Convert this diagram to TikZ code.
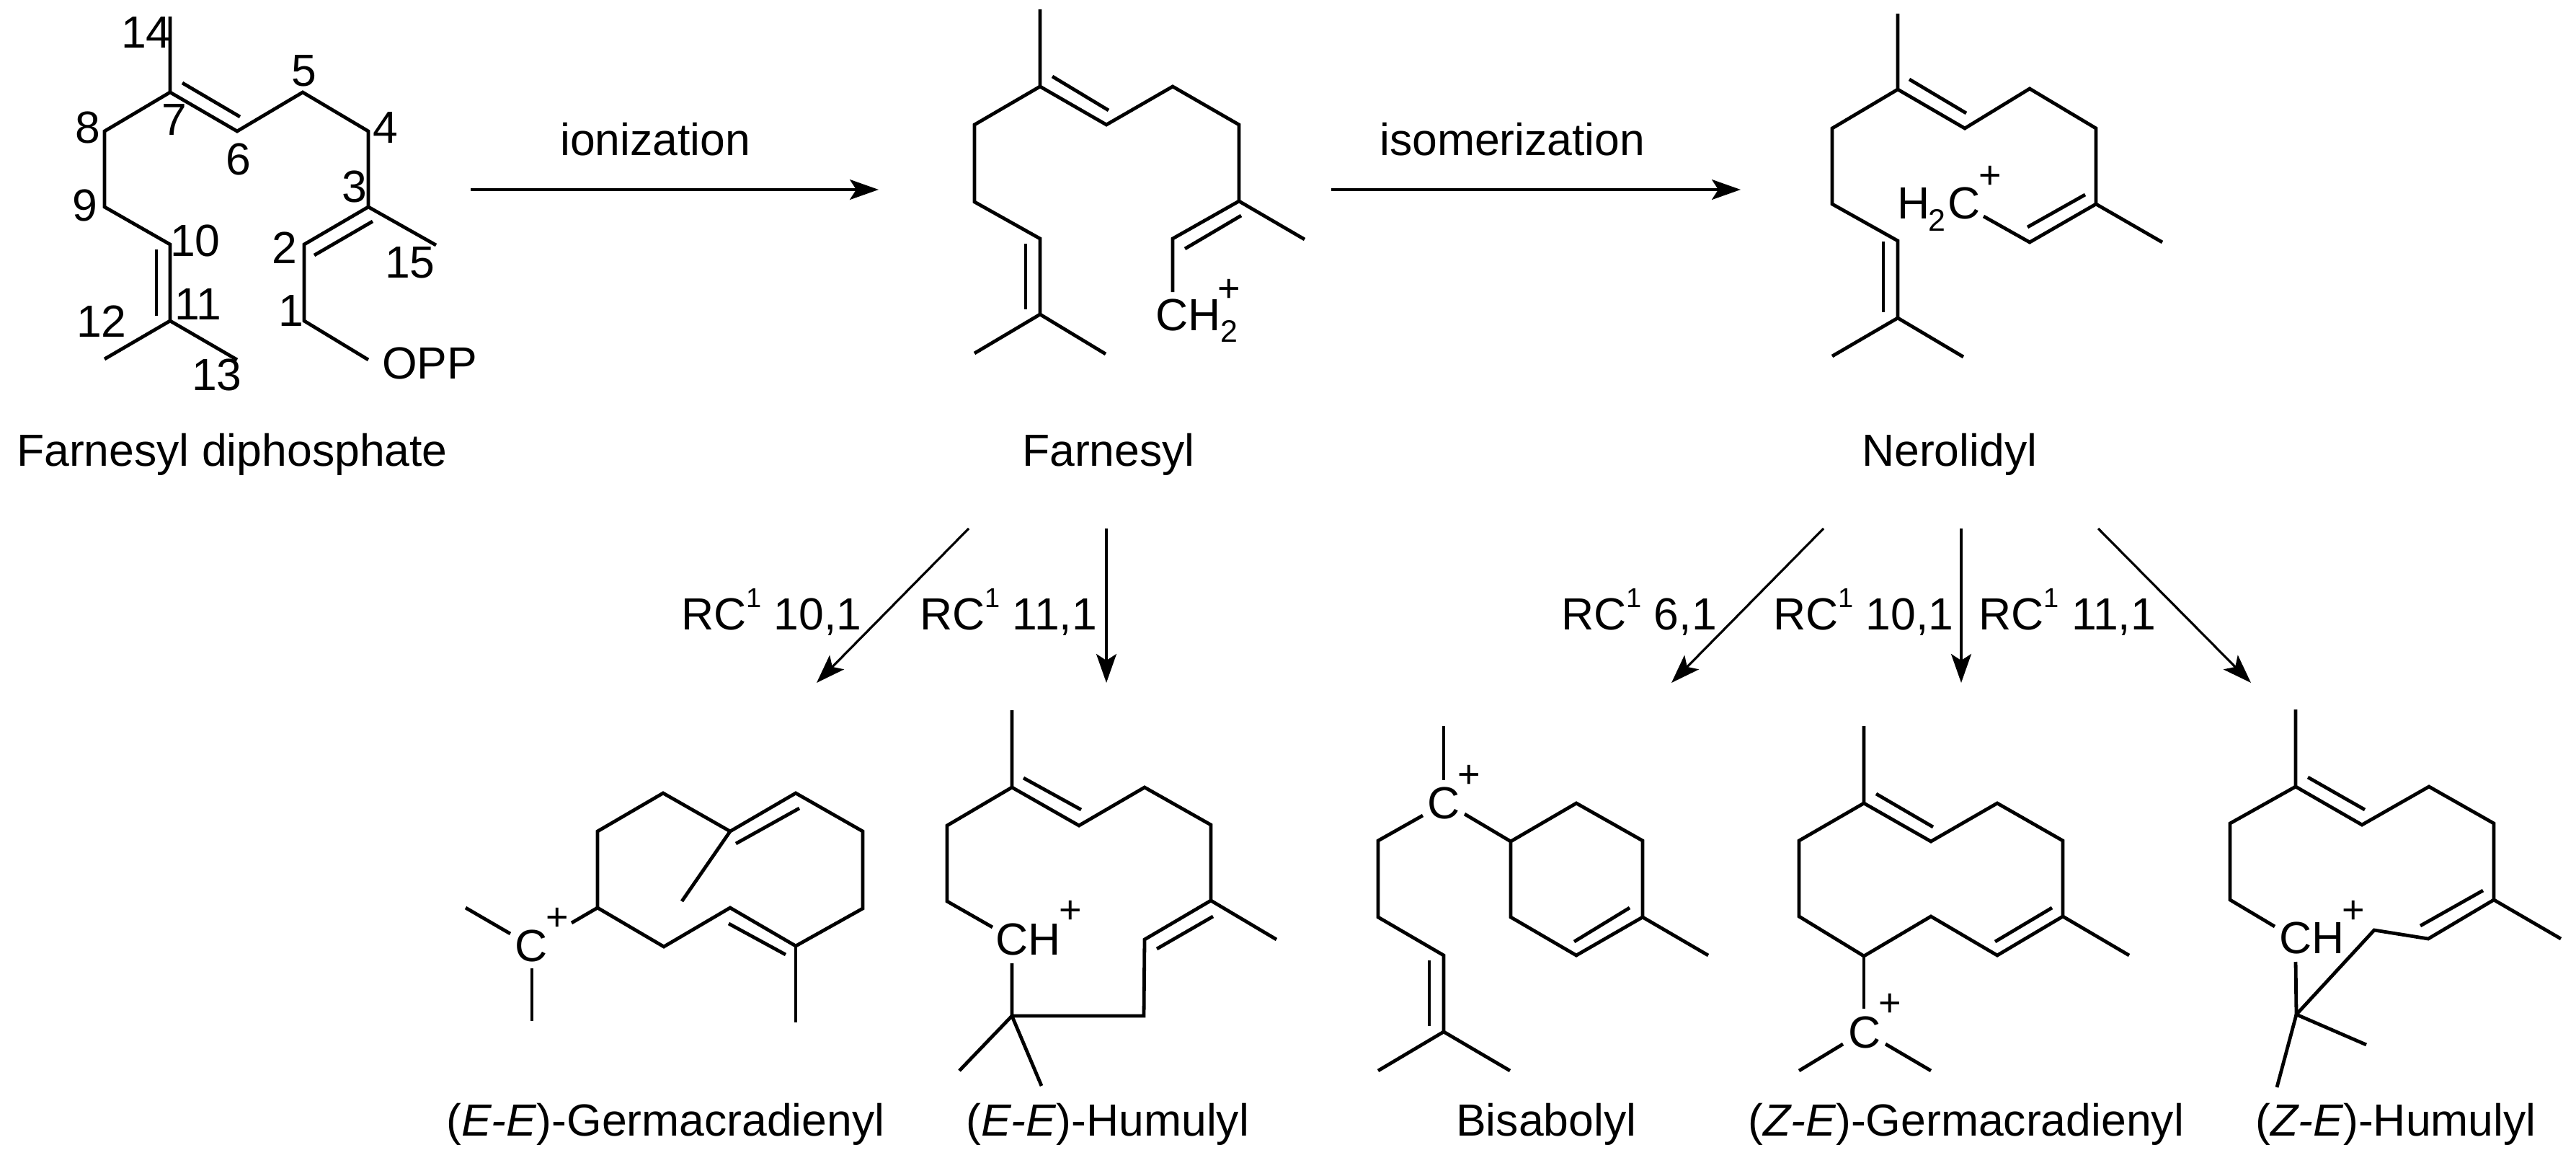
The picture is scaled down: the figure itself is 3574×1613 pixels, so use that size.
\documentclass[tikz,border=0pt]{standalone}
\usepackage{fontspec}
\setmainfont{Liberation Sans}
\usetikzlibrary{arrows.meta}
\newcommand{\rcl}[1]{RC\raisebox{31pt}{\fontsize{38}{40}\selectfont 1} #1}
\tikzset{
  bond/.style={line width=4.8pt,line join=miter,line cap=butt,black},
  rxn/.style={line width=3.2pt,black,-{Stealth[length=40pt,width=28pt,inset=9pt]}},
  lab/.style={inner sep=0pt,anchor=base west,font=\fontsize{62.5}{70}\selectfont},
  num/.style={inner sep=0pt,anchor=base west,font=\fontsize{62.5}{70}\selectfont},
  chg/.style={inner sep=0pt,anchor=center,font=\fontsize{54}{56}\selectfont},
  sub2/.style={inner sep=0pt,anchor=center,font=\fontsize{43}{45}\selectfont}
}
\begin{document}
\begin{tikzpicture}[x=1pt,y=-1pt]
\useasboundingbox (0,0) rectangle (3574,1613);
\fill[white] (0,0) rectangle (3574,1613);

% ---- Farnesyl diphosphate
\draw[bond] (236,23) -- (236,128) -- (329,182) -- (420,128) -- (511,182) -- (511,287) -- (422,339) -- (422,445) -- (511,499);
\draw[bond] (511,287) -- (605,340);
\draw[bond] (236,128) -- (145,182) -- (145,287) -- (236,339) -- (236,445) -- (145,498);
\draw[bond] (236,445) -- (329,499);
\draw[bond] (253,115) -- (333,162);
\draw[bond] (217,346) -- (217,438);
\draw[bond] (436,354) -- (517,307);
\node[num] (n14) at (168,67) {14};
\node[num] (n5) at (404,120) {5};
\node[num] (n7) at (224,188) {7};
\node[num] (n8) at (104,199) {8};
\node[num] (n4) at (517,199) {4};
\node[num] (n6) at (313,243) {6};
\node[num] (n3) at (474,281) {3};
\node[num] (n9) at (100,306) {9};
\node[num] (n10) at (236,355) {10};
\node[num] (n2) at (377,365) {2};
\node[num] (n15) at (534,385) {15};
\node[num] (n1) at (386,452) {1};
\node[num] (n11) at (242,443) {11};
\node[num] (n12) at (106,467) {12};
\node[num] (n13) at (266,541) {13};
\node[lab] (opp) at (530,525) {OPP};
\node[lab] (lfpp) at (23,646) {Farnesyl diphosphate};

% ---- ionization
\coordinate (a1s) at (653,263);
\coordinate (a1e) at (1219,263);
\draw[rxn] (a1s) -- (a1e);
\node[lab] (lion) at (777,216) {ionization};

% ---- Farnesyl
\draw[bond] (1443,13) -- (1443,120) -- (1535,173) -- (1627,120) -- (1719,173) -- (1719,279) -- (1627,331) -- (1627,405);
\draw[bond] (1719,279) -- (1810,332);
\draw[bond] (1443,120) -- (1352,173) -- (1352,280) -- (1443,331) -- (1443,436) -- (1352,490);
\draw[bond] (1443,436) -- (1534,491);
\draw[bond] (1460,106) -- (1538,153);
\draw[bond] (1423,338) -- (1423,429);
\draw[bond] (1644,345) -- (1722,299);
\node[lab] (ch2a) at (1603,458) {CH};
\node[sub2] (ch2b) at (1705,459) {2};
\node[chg] (ch2c) at (1705,403) {+};
\node[lab] (lfar) at (1418,646) {Farnesyl};

% ---- isomerization
\coordinate (a2s) at (1847,263);
\coordinate (a2e) at (2415,263);
\draw[rxn] (a2s) -- (a2e);
\node[lab] (liso) at (1914,216) {isomerization};

% ---- Nerolidyl
\draw[bond] (2633,19) -- (2633,124) -- (2726,178) -- (2816,123) -- (2908,178) -- (2908,283) -- (2816,336) -- (2752,300);
\draw[bond] (2908,283) -- (3000,336);
\draw[bond] (2633,124) -- (2542,178) -- (2542,283) -- (2633,334) -- (2633,441) -- (2542,494);
\draw[bond] (2633,441) -- (2724,495);
\draw[bond] (2649,110) -- (2728,157);
\draw[bond] (2613,335) -- (2613,433);
\draw[bond] (2813,315) -- (2893,270);
\node[lab] (h2ca) at (2632,304) {H};
\node[sub2] (h2cb) at (2687,305) {2};
\node[lab] (h2cc) at (2702,304) {C};
\node[chg] (h2cd) at (2761,246) {+};
\node[lab] (lner) at (2583,646) {Nerolidyl};

% ---- cyclisation arrows
\coordinate (b1s) at (1344,733); \coordinate (b1e) at (1133,947);
\coordinate (b2s) at (1535,733); \coordinate (b2e) at (1535,947);
\coordinate (b3s) at (2530,733); \coordinate (b3e) at (2319,947);
\coordinate (b4s) at (2721,733); \coordinate (b4e) at (2721,947);
\coordinate (b5s) at (2911,733); \coordinate (b5e) at (3123,947);
\draw[rxn] (b1s) -- (b1e);
\draw[rxn] (b2s) -- (b2e);
\draw[rxn] (b3s) -- (b3e);
\draw[rxn] (b4s) -- (b4e);
\draw[rxn] (b5s) -- (b5e);
\node[lab] (r1) at (945,873) {\rcl{10,1}};
\node[lab] (r2) at (1276,873) {\rcl{11,1}};
\node[lab] (r3) at (2166,873) {\rcl{6,1}};
\node[lab] (r4) at (2460,873) {\rcl{10,1}};
\node[lab] (r5) at (2745,873) {\rcl{11,1}};

% ---- (E-E)-Germacradienyl
\draw[bond] (829,1259) -- (829,1153) -- (920,1100) -- (1013,1153) -- (1104,1100) -- (1197,1153) -- (1197,1260) -- (1104,1312) -- (1013,1259) -- (921,1313) -- cycle;
\draw[bond] (1013,1153) -- (946,1250);
\draw[bond] (1104,1312) -- (1104,1418);
\draw[bond] (1021,1170) -- (1109,1121);
\draw[bond] (1011,1281) -- (1090,1324);
\draw[bond] (793,1280) -- (829,1259);
\draw[bond] (646,1259) -- (708,1295);
\draw[bond] (738,1343) -- (738,1416);
\node[lab] (g1a) at (714,1333) {C};
\node[chg] (g1b) at (773,1275) {+};
\node[lab] (lg1) at (619,1575) {(\textit{E-E})-Germacradienyl};

% ---- (E-E)-Humulyl
\draw[bond] (1404,985) -- (1404,1092) -- (1497,1145) -- (1588,1092) -- (1680,1144) -- (1680,1249) -- (1588,1303) -- (1587,1409) -- (1404,1409) -- (1404,1336);
\draw[bond] (1680,1249) -- (1771,1303);
\draw[bond] (1404,1092) -- (1314,1145) -- (1314,1250) -- (1377,1286);
\draw[bond] (1404,1409) -- (1331,1485);
\draw[bond] (1404,1409) -- (1445,1506);
\draw[bond] (1420,1079) -- (1500,1123);
\draw[bond] (1605,1316) -- (1683,1271);
\node[lab] (h1a) at (1381,1324) {CH};
\node[chg] (h1b) at (1485,1265) {+};
\node[lab] (lh1) at (1340,1575) {(\textit{E-E})-Humulyl};

% ---- Bisabolyl
\draw[bond] (2003,1007) -- (2003,1082);
\draw[bond] (1974,1131) -- (1912,1166) -- (1912,1272) -- (2003,1325) -- (2003,1431) -- (1912,1485);
\draw[bond] (2003,1431) -- (2095,1485);
\draw[bond] (1983,1332) -- (1983,1423);
\draw[bond] (2032,1129) -- (2096,1167);
\draw[bond] (2096,1167) -- (2187,1114) -- (2279,1166) -- (2279,1272) -- (2187,1325) -- (2096,1272) -- cycle;
\draw[bond] (2279,1272) -- (2370,1325);
\draw[bond] (2261,1259) -- (2184,1306);
\node[lab] (b1a) at (1980,1135) {C};
\node[chg] (b1b) at (2038,1077) {+};
\node[lab] (lbis) at (2020,1575) {Bisabolyl};

% ---- (Z-E)-Germacradienyl
\draw[bond] (2586,1007) -- (2586,1114) -- (2679,1167) -- (2771,1114) -- (2862,1166) -- (2862,1271) -- (2771,1325) -- (2679,1271) -- (2586,1326) -- (2496,1271) -- (2496,1166) -- (2586,1114);
\draw[bond] (2586,1326) -- (2586,1399);
\draw[bond] (2557,1448) -- (2496,1485);
\draw[bond] (2616,1448) -- (2679,1485);
\draw[bond] (2603,1101) -- (2682,1147);
\draw[bond] (2847,1259) -- (2768,1306);
\draw[bond] (2862,1271) -- (2954,1325);
\node[lab] (g2a) at (2564,1453) {C};
\node[chg] (g2b) at (2622,1394) {+};
\node[lab] (lg2) at (2425,1575) {(\textit{Z-E})-Germacradienyl};

% ---- (Z-E)-Humulyl
\draw[bond] (3185,984) -- (3185,1091) -- (3277,1144) -- (3370,1091) -- (3460,1142) -- (3460,1248) -- (3369,1302) -- (3294,1290) -- (3186,1407) -- (3185,1334);
\draw[bond] (3186,1407) -- (3283,1449);
\draw[bond] (3186,1407) -- (3159,1508);
\draw[bond] (3185,1091) -- (3094,1142) -- (3094,1248) -- (3156,1285);
\draw[bond] (3460,1248) -- (3553,1302);
\draw[bond] (3202,1078) -- (3281,1123);
\draw[bond] (3358,1284) -- (3445,1235);
\node[lab] (h2a) at (3162,1322) {CH};
\node[chg] (h2b) at (3265,1265) {+};
\node[lab] (lh2) at (3129,1575) {(\textit{Z-E})-Humulyl};
\end{tikzpicture}
\end{document}
